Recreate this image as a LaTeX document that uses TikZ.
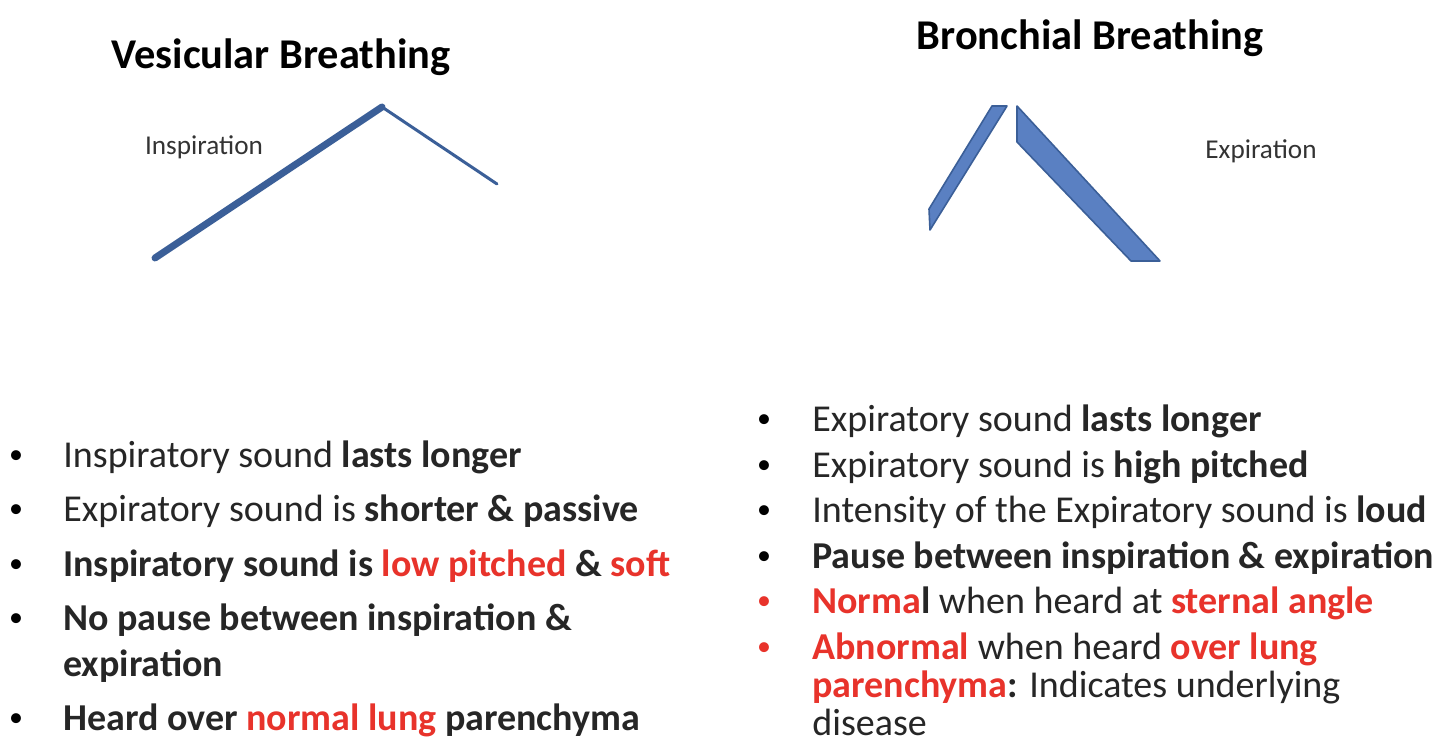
\documentclass[tikz,border=0pt]{standalone}
\usepackage{fontspec}
\setmainfont{Carlito}
\begin{document}
\begin{tikzpicture}[x=0.5pt,y=-0.5pt,
  title/.style={font=\fontsize{21.2}{23}\selectfont\bfseries},
  small/.style={font=\fontsize{13.6}{15}\selectfont, text=black!80},
  item/.style={anchor=west, inner sep=0, font=\fontsize{19}{21}\selectfont, text=black!85},
  bul/.style={inner sep=0, font=\fontsize{14}{16}\selectfont}]
\definecolor{lineblue}{HTML}{3B5F98}
\definecolor{fillblue}{HTML}{5A80C2}
\definecolor{myred}{HTML}{E8332B}
\newcommand{\rd}[1]{\textcolor{myred}{#1}}
\useasboundingbox (0,0) rectangle (1440,748);
\fill[white] (0,0) rectangle (1440,748);
% titles
\node[title] (t1) at (281,57) {Vesicular Breathing};
\node[title] (t2) at (1090,38) {Bronchial Breathing};
\node[small] (insp) at (204,147) {Inspiration};
\node[small] (exp) at (1261,151) {Expiration};
% vesicular shape
\coordinate (v1) at (155,258);
\coordinate (v2) at (382,107);
\coordinate (v3) at (497,184);
\draw[lineblue, line width=3.5pt, line cap=round] (v1) -- (v2);
\draw[lineblue, line width=1.5pt, line cap=round] (v2) -- (v3);
% bronchial shape
\draw[fill=fillblue, draw=lineblue, line width=0.8pt, line join=round]
  (992,106) -- (1007,106) -- (930,230) -- (929,209) -- cycle;
\draw[fill=fillblue, draw=lineblue, line width=0.8pt, line join=round]
  (1017,106) -- (1160,261) -- (1131,261) -- (1017,142) -- cycle;
% left bullets
\foreach \y/\n in {457/a,511/b,566/c,620/d,720/e} \node[bul] (bl\n) at (16,\y) {•};
\node[item] (l1) at (63,457) {Inspiratory sound \textbf{lasts longer}};
\node[item] (l2) at (63,511) {Expiratory sound is \textbf{shorter \& passive}};
\node[item] (l3) at (63,566) {\textbf{Inspiratory sound is \rd{low pitched} \& \rd{soft}}};
\node[item] (l4) at (63,620) {\textbf{No pause between inspiration \&}};
\node[item] (l4b) at (63,666) {\textbf{expiration}};
\node[item] (l5) at (63,720) {\textbf{Heard over \rd{normal lung} parenchyma}};
% right bullets
\foreach \y/\n in {421/a,467/b,512/c,558/d} \node[bul] (br\n) at (764,\y) {•};
\foreach \y/\n in {603/e,649/f} \node[bul, text=myred] (br\n) at (764,\y) {•};
\node[item] (r1) at (812,421) {Expiratory sound \textbf{lasts longer}};
\node[item] (r2) at (812,467) {Expiratory sound is \textbf{high pitched}};
\node[item] (r3) at (812,512) {Intensity of the Expiratory sound is \textbf{loud}};
\node[item] (r4) at (812,558) {\textbf{Pause between inspiration \& expiration}};
\node[item] (r5) at (812,603) {\textbf{\rd{Norma}l} when heard at \textbf{\rd{sternal angle}}};
\node[item] (r6) at (812,649) {\textbf{\rd{Abnormal}} when heard \textbf{\rd{over lung}}};
\node[item] (r6b) at (812,687) {\textbf{\rd{parenchyma}:} Indicates underlying};
\node[item] (r6c) at (812,722) {disease};
\end{tikzpicture}
\end{document}
